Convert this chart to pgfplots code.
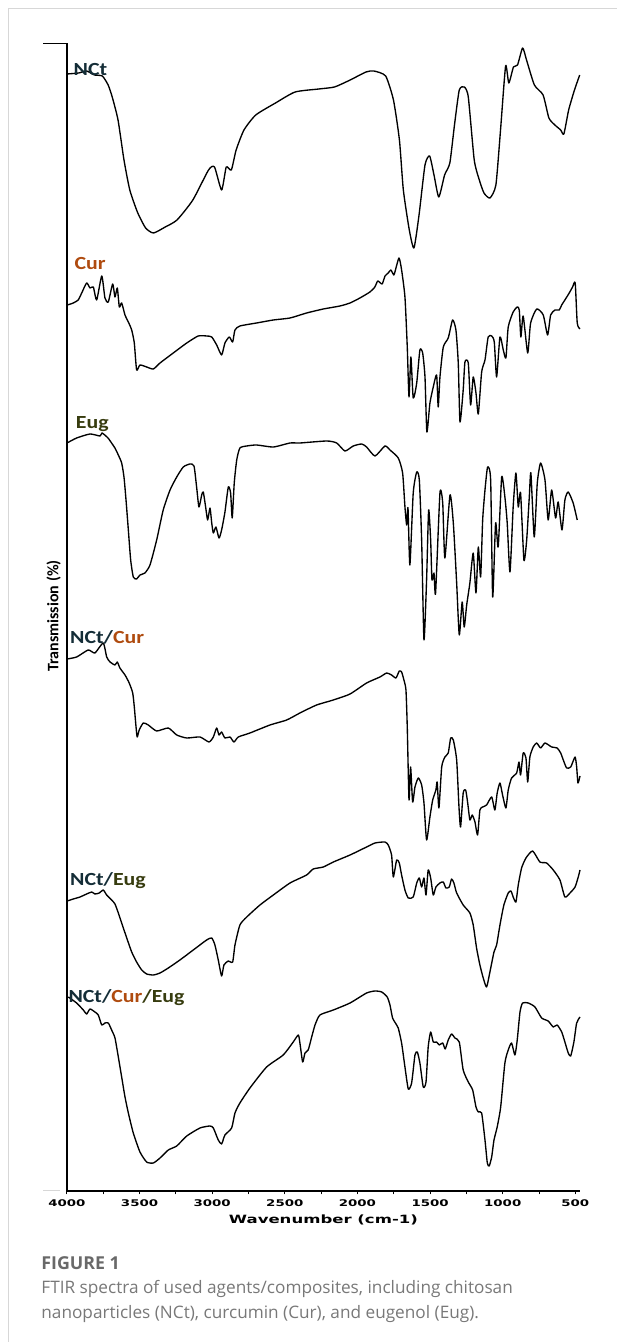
\documentclass[border=0pt]{standalone}
\usepackage{graphicx}
\usepackage{pgfplots}
\pgfplotsset{compat=1.18}
\usepackage{fontspec}
\setmainfont{DejaVu Sans}
\newfontfamily\carlito{Carlito}
\newfontfamily\dejavu{DejaVu Sans}
\newfontfamily\opensans{Open Sans}
\definecolor{ncCol}{RGB}{20,45,55}
\definecolor{curCol}{RGB}{175,75,15}
\definecolor{eugCol}{RGB}{55,60,15}
\definecolor{capGray}{RGB}{105,105,105}
\definecolor{capText}{RGB}{120,120,120}
\definecolor{frameGray}{RGB}{215,215,215}
\newcommand{\lbl}[1]{\scalebox{1.18}[1]{\carlito\bfseries\fontsize{18.5}{20}\selectfont #1}}
\pgfplotsset{spec/.style={black, line width=1.35pt, line join=round, smooth, tension=0.35, mark=none}}

\pgfplotstableread{
w v
4000 1124
3919 1125
3865 1127
3810 1123
3756 1122
3716 1113
3688 1101
3648 1078
3607 1038
3567 1008
3512 985
3458 970
3404 965
3323 971
3242 978
3133 998
3025 1028
2984 1031
2935 1008
2903 1031
2868 1028
2835 1048
2781 1068
2700 1083
2564 1095
2429 1106
2266 1109
2158 1111
2050 1118
1941 1126
1887 1127
1806 1122
1752 1098
1711 1058
1684 1008
1643 968
1611 950
1576 983
1535 1033
1503 1042
1473 1023
1440 1001
1400 1023
1364 1035
1332 1073
1299 1108
1264 1111
1237 1101
1196 1038
1161 1018
1129 1005
1088 1000
1047 1013
1015 1068
980 1132
958 1115
926 1131
898 1133
863 1150
836 1138
782 1113
722 1103
682 1080
641 1073
601 1068
579 1064
546 1088
506 1108
470 1123
}\nct

\pgfplotstableread{
w v
3997 893
3956 895
3922 898
3898 905
3864 915
3841 910
3818 911
3795 898
3760 922
3738 900
3715 896
3685 914
3669 901
3653 910
3639 891
3623 895
3600 883
3577 876
3554 868
3536 855
3520 828
3497 833
3451 831
3405 829
3359 835
3268 845
3175 855
3096 862
3038 862
3003 861
2969 853
2935 843
2912 855
2882 861
2859 856
2843 868
2809 872
2694 875
2579 878
2464 880
2350 885
2235 889
2120 892
2051 895
1983 900
1914 906
1880 911
1860 917
1830 914
1810 922
1788 925
1770 928
1750 923
1742 926
1714 940
1696 928
1673 901
1657 851
1645 801
1632 841
1616 800
1592 815
1570 848
1551 845
1535 821
1522 766
1501 795
1478 811
1455 823
1444 791
1432 821
1409 851
1375 860
1345 878
1322 868
1306 835
1294 776
1272 808
1260 836
1237 835
1221 793
1203 821
1184 805
1168 784
1145 826
1122 838
1100 861
1076 862
1058 856
1042 821
1019 861
996 848
978 840
962 871
928 886
900 891
886 888
875 861
859 882
828 845
808 875
766 889
721 883
691 863
670 883
640 888
611 888
594 893
572 898
542 905
519 911
501 915
487 875
468 869
}\cur

\pgfplotstableread{
w v
3999 755
3933 760
3841 764
3772 762
3758 765
3717 760
3683 753
3669 750
3646 743
3623 735
3607 721
3593 698
3577 668
3561 638
3543 621
3520 619
3497 623
3463 625
3428 633
3382 658
3337 688
3290 708
3244 721
3199 731
3153 734
3125 732
3107 711
3091 691
3072 703
3061 706
3045 691
3031 678
3015 690
3003 675
2992 665
2974 671
2953 660
2935 668
2912 686
2889 711
2873 705
2862 680
2848 715
2831 738
2809 750
2762 752
2694 753
2579 751
2464 755
2396 755
2212 757
2143 755
2086 747
2029 752
1971 754
1937 751
1879 742
1811 752
1776 748
1719 740
1689 725
1673 691
1661 673
1652 690
1639 633
1616 705
1592 726
1574 718
1558 658
1542 558
1524 618
1510 688
1496 658
1487 618
1473 625
1462 605
1432 705
1413 695
1398 640
1363 703
1340 675
1317 615
1299 563
1279 596
1265 571
1248 593
1226 615
1203 645
1184 605
1168 651
1152 621
1138 678
1122 708
1104 731
1083 718
1069 601
1049 675
1031 651
1007 721
985 701
969 675
950 626
928 691
909 725
893 691
877 705
854 638
835 658
817 701
806 725
783 661
762 715
739 735
709 718
687 678
663 708
636 680
618 696
592 668
572 698
549 706
515 695
487 678
}\eug

\pgfplotstableread{
w v
3999 539
3933 541
3853 548
3807 545
3750 555
3726 541
3703 536
3669 533
3653 536
3635 530
3600 523
3571 515
3547 505
3536 491
3524 471
3516 461
3502 468
3474 475
3440 473
3382 467
3302 470
3244 463
3175 460
3084 461
3022 456
2992 461
2969 470
2953 463
2935 466
2912 460
2877 461
2850 456
2820 461
2740 465
2602 473
2487 478
2396 485
2281 493
2166 498
2051 504
1937 515
1845 521
1799 525
1765 523
1735 520
1712 527
1696 526
1680 518
1666 508
1657 471
1645 398
1634 431
1620 396
1604 411
1581 420
1558 413
1542 395
1524 358
1501 381
1482 398
1460 408
1451 416
1439 390
1420 431
1398 441
1375 445
1358 460
1340 458
1317 438
1301 391
1290 371
1272 405
1255 408
1241 395
1226 378
1210 383
1191 376
1173 363
1157 388
1138 391
1111 393
1076 401
1054 388
1038 405
1019 415
1001 403
978 390
962 408
939 420
904 425
888 436
877 423
859 445
840 440
828 416
813 441
790 451
766 455
739 450
709 455
663 451
625 450
601 445
583 438
560 430
532 431
502 441
491 431
482 415
468 422
}\nctcur

\pgfplotstableread{
w v
3997 297
3956 299
3910 301
3864 304
3829 306
3807 304
3777 305
3750 308
3726 303
3692 298
3669 294
3646 285
3623 275
3588 260
3554 246
3520 236
3485 228
3451 224
3405 223
3359 225
3302 230
3222 238
3130 248
3038 258
3003 260
2981 253
2958 238
2935 222
2919 233
2889 237
2859 236
2843 253
2809 273
2762 281
2671 293
2579 303
2464 315
2350 323
2304 329
2235 331
2166 336
2051 343
1937 351
1879 355
1811 356
1788 353
1765 343
1753 321
1730 338
1712 335
1696 323
1673 308
1650 300
1616 301
1592 315
1574 320
1558 311
1542 320
1528 303
1513 328
1496 320
1478 303
1460 311
1432 315
1409 316
1391 310
1368 311
1352 319
1336 315
1317 305
1272 293
1226 285
1203 273
1180 250
1157 233
1134 220
1111 211
1088 226
1060 246
1042 253
1019 273
992 293
962 305
943 307
928 301
909 296
893 313
870 330
840 340
794 347
744 336
698 335
652 328
606 318
572 301
537 305
502 311
480 321
468 328
}\ncteug

\pgfplotstableread{
w v
3990 201
3933 195
3887 188
3864 184
3841 189
3807 186
3784 183
3760 173
3738 175
3715 175
3692 168
3669 160
3646 141
3623 121
3600 101
3577 85
3543 65
3497 46
3451 36
3405 35
3359 40
3302 48
3244 52
3175 62
3084 70
3015 72
2992 70
2958 58
2935 54
2912 63
2866 70
2843 85
2809 95
2740 110
2625 131
2511 143
2442 156
2407 163
2396 155
2377 136
2361 145
2339 148
2315 161
2292 173
2258 183
2166 188
2051 195
1937 205
1879 207
1833 206
1795 201
1776 193
1758 180
1730 173
1719 170
1696 155
1673 131
1650 109
1627 115
1604 143
1588 146
1570 135
1547 111
1528 116
1513 151
1496 166
1478 156
1455 156
1437 153
1413 155
1396 149
1375 158
1352 164
1329 160
1299 156
1272 128
1237 116
1207 108
1184 91
1168 86
1145 85
1122 58
1106 35
1093 32
1076 41
1060 58
1038 71
1014 91
985 135
962 148
939 155
916 143
900 158
881 186
863 195
824 195
778 191
732 180
687 177
652 171
625 173
594 166
572 156
549 145
532 142
510 156
491 175
468 181
}\ncteugcur

\begin{document}
\begin{tikzpicture}
\path[use as bounding box] (0,0) rectangle (617pt,1342pt);
\draw[frameGray, line width=1pt] (8.7pt,0) -- (8.7pt,1333pt) -- (617pt,1333pt);
\draw[black, line width=1pt] (43.2pt,1298.7pt) -- (66.9pt,1298.7pt);
\draw[frameGray, line width=1pt] (43.3pt,151pt) -- (60pt,151pt);
\begin{axis}[
  at={(66.9pt,151pt)}, anchor=south west,
  scale only axis, width=513.1pt, height=1147.7pt,
  x dir=reverse, xmin=468, xmax=4000, ymin=7, ymax=1154.7,
  axis x line=bottom, axis y line=left,
  axis line style={-, line width=1.6pt, black},
  xtick={4000,3500,3000,2500,2000,1500,1000,500},
  xticklabels={4000,3500,3000,2500,2000,1500,1000,500},
  minor xtick={3750,3250,2750,2250,1750,1250,750},
  ytick=\empty,
  tick align=outside,
  major tick length=3.5pt, minor tick length=3.5pt,
  tick style={black, line width=0.9pt},
  xticklabel style={font=\dejavu\bfseries\fontsize{9.2}{10}\selectfont, xscale=1.45, anchor=north, yshift=-1.3pt},
  xlabel={Wavenumber (cm-1)},
  xlabel style={font=\dejavu\bfseries\fontsize{11.4}{12}\selectfont, xscale=1.45, at={(axis description cs:0.5,0)}, anchor=base, yshift=-33pt},
  clip=false,
]
\addplot[spec] table[x=w,y=v] {\nct};
\addplot[spec] table[x=w,y=v] {\cur};
\addplot[spec] table[x=w,y=v] {\eug};
\addplot[spec] table[x=w,y=v] {\nctcur};
\addplot[spec] table[x=w,y=v] {\ncteug};
\addplot[spec] table[x=w,y=v] {\ncteugcur};
\node[anchor=base west, inner sep=0] at (axis cs:3955,1122) {\lbl{\textcolor{ncCol}{NCt}}};
\node[anchor=base west, inner sep=0] at (axis cs:3949,928) {\lbl{\textcolor{curCol}{Cur}}};
\node[anchor=base west, inner sep=0] at (axis cs:3939,769) {\lbl{\textcolor{eugCol}{Eug}}};
\node[anchor=base west, inner sep=0] at (axis cs:3979,554) {\lbl{\textcolor{ncCol}{NCt/}\textcolor{curCol}{Cur}}};
\node[anchor=base west, inner sep=0] at (axis cs:3979,312) {\lbl{\textcolor{ncCol}{NCt/}\textcolor{eugCol}{Eug}}};
\node[anchor=base west, inner sep=0] at (axis cs:3990,195) {\lbl{\textcolor{ncCol}{NCt/}\textcolor{curCol}{Cur}\textcolor{eugCol}{/Eug}}};
\end{axis}
\node[rotate=90, anchor=center, inner sep=0] at (53.7pt,726pt) {\carlito\bfseries\fontsize{16}{18}\selectfont Transmission (\%)};
\node[anchor=base west, inner sep=0, text=capGray] at (41.2pt,72pt) {\opensans\bfseries\fontsize{17.8}{20}\selectfont FIGURE 1};
\node[anchor=base west, inner sep=0, text=capText] at (41.2pt,48pt) {\opensans\fontsize{17.2}{20}\selectfont FTIR spectra of used agents/composites, including chitosan};
\node[anchor=base west, inner sep=0, text=capText] at (41.2pt,23.7pt) {\opensans\fontsize{17.2}{20}\selectfont nanoparticles (NCt), curcumin (Cur), and eugenol (Eug).};
\end{tikzpicture}
\end{document}
